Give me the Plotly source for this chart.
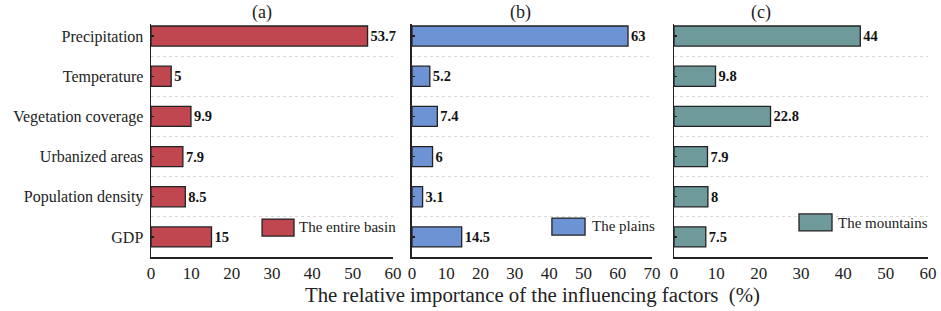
import plotly.graph_objects as go

factors = ["Precipitation", "Temperature", "Vegetation coverage",
           "Urbanized areas", "Population density", "GDP"]
basin = [53.7, 5, 9.9, 7.9, 8.5, 15]
plains = [63, 5.2, 7.4, 6, 3.1, 14.5]
mountains = [44, 9.8, 22.8, 7.9, 8, 7.5]
panel_titles = ["(a)", "(b)", "(c)"]
legend_names = ["The entire basin", "The plains", "The mountains"]
x_maxes = [60, 70, 60]
colors = ["#C0464F", "#6D93D5", "#6E9A9C"]

n = len(factors)
ypos = [n - 1 - i for i in range(n)]  # Precipitation on top

FONT = "Liberation Serif"
fig = go.Figure()

series = [basin, plains, mountains]
xdomains = [[0.1605, 0.4176], [0.4378, 0.6929], [0.7163, 0.9862]]
ydomain = [0.1736, 0.9228]
title_x = [0.459, 0.454, 0.343]
leg_rect = [(0.459, 0.591, 0.090, 0.163), (0.583, 0.721, 0.094, 0.167), (0.492, 0.622, 0.112, 0.185)]
leg_text = [(0.605, 0.127), (0.740, 0.131), (0.636, 0.148)]

for k in range(3):
    sfx = "" if k == 0 else str(k + 1)
    fig.add_trace(go.Bar(
        x=series[k], y=ypos, orientation="h", width=0.5,
        marker=dict(color=colors[k], line=dict(color="#222222", width=1.3)),
        texttemplate="%{x}", textposition="outside", cliponaxis=False,
        textfont=dict(family=FONT, size=14.5, color="#111111", weight="bold"),
        xaxis="x" + sfx, yaxis="y" + sfx, showlegend=False, name=legend_names[k],
        hoverinfo="skip",
    ))
    fig.layout["xaxis" + sfx] = dict(
        domain=xdomains[k], anchor="y" + sfx, range=[0, x_maxes[k]], dtick=10,
        showline=True, linecolor="#222222", linewidth=1.5, showgrid=False,
        zeroline=False, ticks="", automargin=False, fixedrange=True,
        tickfont=dict(family=FONT, size=17, color="#222222"),
    )
    fig.layout["yaxis" + sfx] = dict(
        domain=ydomain, anchor="x" + sfx, range=[-0.5, n - 0.7],
        tickvals=ypos, ticktext=factors, showticklabels=(k == 0),
        ticks="inside", ticklen=3, tickcolor="#222222", tickwidth=1.2,
        showline=True, linecolor="#222222", linewidth=1.5, showgrid=False,
        zeroline=False, automargin=False, fixedrange=True, ticklabelstandoff=3,
        minor=dict(tickvals=[i + 0.5 for i in range(n - 1)], showgrid=True,
                   gridcolor="#d9d9d9", griddash="dot", gridwidth=1, ticks=""),
        tickfont=dict(family=FONT, size=16, color="#222222"),
    )
    xr = "x" + sfx + " domain"
    yr = "y" + sfx + " domain"
    fig.add_annotation(x=title_x[k], y=1.0, xref=xr, yref="paper", yanchor="top",
                       text=panel_titles[k], showarrow=False,
                       font=dict(family=FONT, size=18, color="#222222"))
    x0, x1, y0, y1 = leg_rect[k]
    fig.add_shape(type="rect", xref=xr, yref=yr, x0=x0, x1=x1, y0=y0, y1=y1,
                  fillcolor=colors[k], line=dict(color="#222222", width=1.3))
    fig.add_annotation(x=leg_text[k][0], y=leg_text[k][1], xref=xr, yref=yr,
                       xanchor="left", yanchor="middle", text=legend_names[k],
                       showarrow=False, font=dict(family=FONT, size=15, color="#222222"))

fig.add_annotation(x=532 / 941, y=0.05, xref="paper", yref="paper",
                   xanchor="center", yanchor="middle",
                   text="The relative importance of the influencing factors  (%)",
                   showarrow=False, font=dict(family=FONT, size=20.8, color="#222222"))

fig.update_layout(
    width=941, height=311, margin=dict(l=0, r=0, t=0, b=0),
    plot_bgcolor="white", paper_bgcolor="white", bargap=0.5,
)

fig.write_html("out.html", config={"displayModeBar": False, "staticPlot": True},
               post_script="document.body.style.margin='0';document.body.style.overflow='hidden';")
